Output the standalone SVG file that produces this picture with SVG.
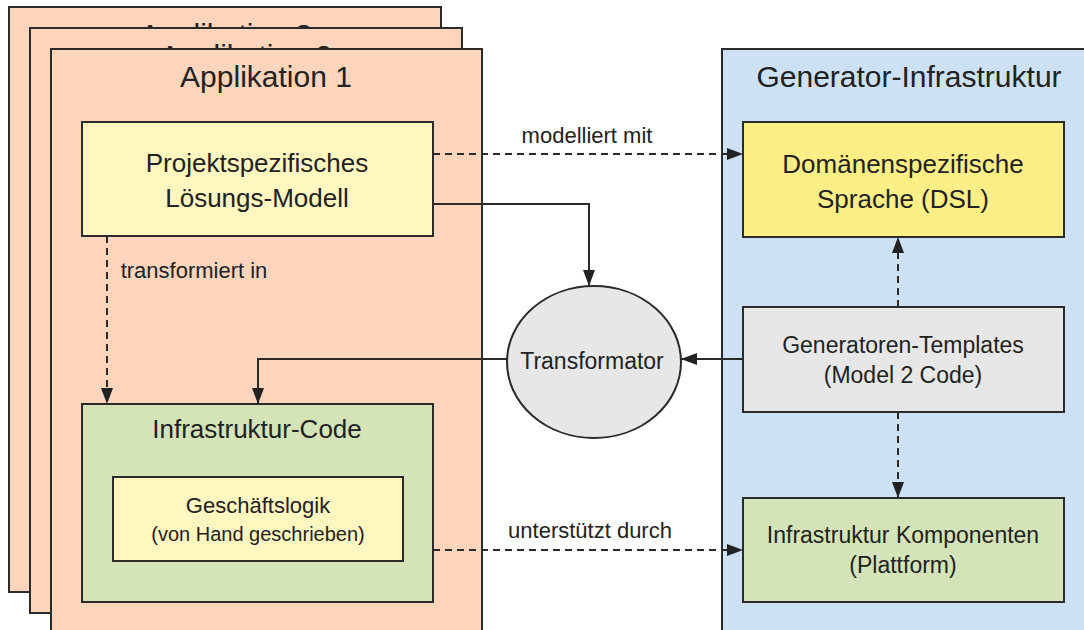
<svg xmlns="http://www.w3.org/2000/svg" width="1084" height="630" viewBox="0 0 1084 630">
  <style>
    .box { stroke: #2b2b2b; stroke-width: 2; }
    .app { fill: #fdd5bd; }
    .gen { fill: #cce1f4; }
    .pale { fill: #fff6c0; }
    .green { fill: #d4e4b8; }
    .grey { fill: #e6e7e6; }
    .yellow { fill: #fdef85; }
    text { font-family: "Liberation Sans", Arial, sans-serif; fill: #222; text-anchor: middle; }
    .title { font-size: 30px; }
    .main { font-size: 26px; }
    .mid { font-size: 23px; }
    .small { font-size: 20px; }
    .lbl { font-size: 22px; }
    .solid { fill: none; stroke: #2b2b2b; stroke-width: 2; }
    .dash { fill: none; stroke: #2b2b2b; stroke-width: 2; stroke-dasharray: 7 5; }
  </style>
  <defs>
    <marker id="arrow" markerUnits="userSpaceOnUse" markerWidth="16" markerHeight="12" refX="16" refY="6" orient="auto">
      <path d="M0,0 L16,6 L0,12 z" fill="#222"/>
    </marker>
    <!-- the rear panels only show the strip above the next panel -->
    <clipPath id="strip3"><rect x="9" y="7" width="432" height="21"/></clipPath>
    <clipPath id="strip2"><rect x="30" y="28" width="432" height="20"/></clipPath>
  </defs>

  <rect width="1084" height="630" fill="#ffffff"/>

  <!-- stacked application panels -->
  <g id="app3">
    <rect class="box app" x="9" y="7" width="432" height="585"/>
    <text class="title" x="226" y="45" clip-path="url(#strip3)">Applikation 3</text>
  </g>
  <g id="app2">
    <rect class="box app" x="30" y="28" width="432" height="585"/>
    <text class="title" x="246" y="66" clip-path="url(#strip2)">Applikation 2</text>
  </g>
  <g id="app1">
    <rect class="box app" x="51" y="49" width="431" height="600"/>
    <text class="title" x="266" y="87">Applikation 1</text>
  </g>

  <!-- generator infrastructure panel -->
  <g id="generator">
    <rect class="box gen" x="722" y="49" width="380" height="600"/>
    <text class="title" x="909" y="87">Generator-Infrastruktur</text>
  </g>

  <g id="loesungsmodell">
    <rect class="box pale" x="82" y="122" width="351" height="114"/>
    <text class="main" x="257" y="172">Projektspezifisches</text>
    <text class="main" x="257" y="207">Lösungs-Modell</text>
  </g>

  <g id="infrastruktur-code">
    <rect class="box green" x="82" y="404" width="351" height="198"/>
    <text class="main" x="257" y="438">Infrastruktur-Code</text>
  </g>

  <g id="geschaeftslogik">
    <rect class="box pale" x="113" y="477" width="290" height="84"/>
    <text class="lbl" x="258" y="513">Geschäftslogik</text>
    <text class="small" x="258" y="541">(von Hand geschrieben)</text>
  </g>

  <g id="dsl">
    <rect class="box yellow" x="743" y="122" width="321" height="115"/>
    <text class="main" x="903" y="173">Domänenspezifische</text>
    <text class="main" x="903" y="208">Sprache (DSL)</text>
  </g>

  <g id="templates">
    <rect class="box grey" x="743" y="307" width="321" height="105"/>
    <text class="mid" x="903" y="353">Generatoren-Templates</text>
    <text class="mid" x="903" y="383">(Model 2 Code)</text>
  </g>

  <g id="komponenten">
    <rect class="box green" x="743" y="498" width="321" height="104"/>
    <text class="mid" x="903" y="543">Infrastruktur Komponenten</text>
    <text class="mid" x="903" y="573">(Plattform)</text>
  </g>

  <g id="transformator">
    <ellipse class="box grey" cx="594" cy="362" rx="87" ry="76"/>
    <text class="mid" x="592" y="369">Transformator</text>
  </g>

  <!-- connectors -->
  <g id="connectors">
    <path class="dash" d="M433,154 H743" marker-end="url(#arrow)"/>
    <text class="lbl" x="587" y="143">modelliert mit</text>

    <path class="dash" d="M107,236 V404" marker-end="url(#arrow)"/>
    <text class="lbl" x="194" y="278">transformiert in</text>

    <path class="solid" d="M433,204 H589 V286" marker-end="url(#arrow)"/>

    <path class="solid" d="M507,359 H258 V404" marker-end="url(#arrow)"/>

    <path class="solid" d="M743,359 H681" marker-end="url(#arrow)"/>

    <path class="dash" d="M898,307 V237" marker-end="url(#arrow)"/>

    <path class="dash" d="M898,412 V498" marker-end="url(#arrow)"/>

    <path class="dash" d="M433,550 H743" marker-end="url(#arrow)"/>
    <text class="lbl" x="590" y="538">unterstützt durch</text>
  </g>
</svg>
